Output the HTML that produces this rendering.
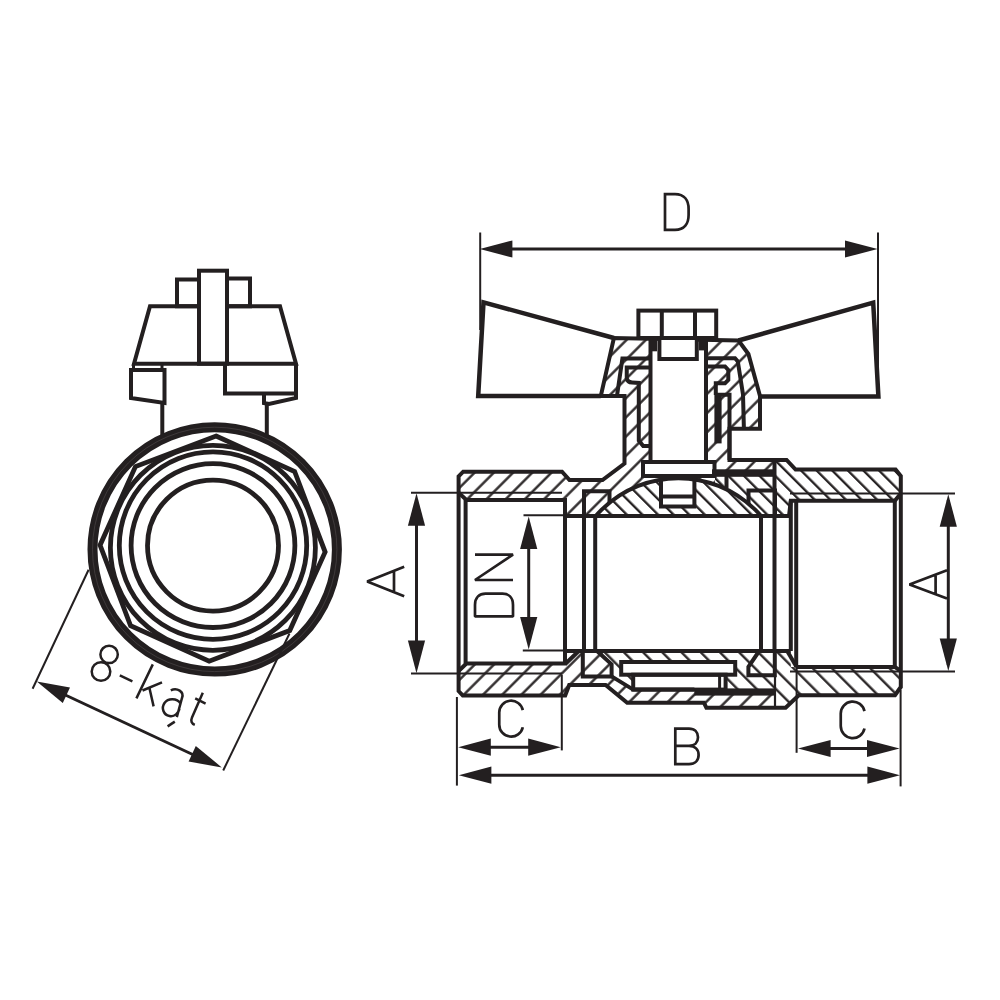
<!DOCTYPE html>
<html><head><meta charset="utf-8"><style>
html,body{margin:0;padding:0;background:#fff;}
svg{display:block;}
</style></head><body>
<svg width="1000" height="1000" viewBox="0 0 1000 1000" stroke="#231f20" stroke-linecap="butt" stroke-linejoin="miter">
<defs>
<pattern id="hA" patternUnits="userSpaceOnUse" width="13.58" height="13.58" patternTransform="rotate(45)">
<line x1="4.4" y1="-2" x2="4.4" y2="16" stroke="#231f20" stroke-width="2.3"/>
</pattern>
<pattern id="hC" patternUnits="userSpaceOnUse" width="11.03" height="11.03" patternTransform="rotate(-45)">
<line x1="2.1" y1="-2" x2="2.1" y2="14" stroke="#231f20" stroke-width="2.3"/>
</pattern>
<pattern id="hB" patternUnits="userSpaceOnUse" width="13.58" height="13.58" patternTransform="rotate(-45)">
<line x1="7.1" y1="-2" x2="7.1" y2="16" stroke="#231f20" stroke-width="2.3"/>
</pattern>
</defs>
<rect x="0" y="0" width="1000" height="1000" fill="#fff" stroke="none"/>
<g fill="none">
<circle cx="214.7" cy="549.4" r="122.2" stroke-width="10"/>
<circle cx="214.7" cy="549.4" r="122.2" stroke="#4a4546" stroke-width="0.7"/>
<polygon points="216.04,436.05 294.61,471.45 325.15,552.04 289.75,630.61 209.16,661.15 130.59,625.75 100.05,545.16 135.45,466.59" fill="none" stroke-width="4.8"/>
<circle cx="212.9" cy="547.8" r="102.5" stroke-width="4.8"/>
<circle cx="213" cy="545.6" r="93.7" stroke-width="4.8"/>
<circle cx="213" cy="545.6" r="81.9" stroke-width="4.8"/>
<circle cx="213" cy="545.6" r="65.5" stroke-width="4.8"/>
<rect x="199" y="270.7" width="28.00" height="93.00" fill="none" stroke-width="4"/>
<polyline points="199.00,306.20 177.00,306.20 177.00,279.50 199.00,279.50" fill="none" stroke-width="4"/>
<polyline points="227.00,306.20 250.00,306.20 250.00,278.50 227.00,278.50" fill="none" stroke-width="4"/>
<polyline points="199.00,306.20 150.00,306.20 134.00,363.70 296.00,363.70 280.00,306.20 227.00,306.20" fill="none" stroke-width="4"/>
<polygon points="131.00,370.00 164.50,370.00 164.50,403.00 131.00,398.00 131.00,370.00" fill="none" stroke-width="4"/>
<line x1="133.5" y1="363.7" x2="133.5" y2="370" stroke-width="3"/>
<line x1="162" y1="363.7" x2="162" y2="370" stroke-width="3"/>
<polyline points="225.00,363.70 225.00,393.50 296.00,393.50" fill="none" stroke-width="4"/>
<polyline points="296.00,363.70 296.00,398.00 269.00,404.00 264.00,403.00 264.00,393.50" fill="none" stroke-width="4"/>
<line x1="162.3" y1="402" x2="162.3" y2="437" stroke-width="4"/>
<line x1="266.8" y1="402" x2="266.8" y2="437" stroke-width="4"/>
</g>
<line x1="88.6" y1="569.8" x2="32.6" y2="688.8" stroke-width="2"/>
<line x1="289.5" y1="633.5" x2="223.2" y2="770.5" stroke-width="2"/>
<line x1="60" y1="692.5" x2="198" y2="757" stroke-width="3"/>
<polygon points="36.80,681.60 70.00,687.47 62.79,703.08" fill="#231f20" stroke="none"/>
<polygon points="221.80,767.40 188.60,761.53 195.81,745.92" fill="#231f20" stroke="none"/>
<polygon points="458.60,476.40 463.20,471.70 562.00,471.70 569.50,480.00 602.50,480.00 624.50,463.50 624.50,396.00 600.80,396.00 613.90,338.00 738.50,340.50 748.40,354.00 760.00,396.00 760.00,428.80 729.50,428.80 729.50,460.00 786.60,460.00 795.60,469.60 895.60,469.60 900.80,476.00 900.80,687.00 895.00,695.20 798.80,695.20 785.60,707.80 706.40,707.80 704.00,702.80 627.20,702.80 605.60,685.00 569.20,685.00 565.20,695.50 462.80,695.50 458.60,691.00" fill="#fff" stroke="none"/>
<polygon points="458.60,476.40 463.20,471.70 562.00,471.70 569.50,480.00 602.50,480.00 624.50,463.50 624.50,396.00 600.80,396.00 613.90,338.00 738.50,340.50 748.40,354.00 760.00,396.00 760.00,428.80 729.50,428.80 729.50,460.00 786.60,460.00 795.60,469.60 895.60,469.60 900.80,476.00 900.80,687.00 895.00,695.20 798.80,695.20 785.60,707.80 706.40,707.80 704.00,702.80 627.20,702.80 605.60,685.00 569.20,685.00 565.20,695.50 462.80,695.50 458.60,691.00" fill="url(#hA)" stroke="none"/>
<polygon points="715.00,476.00 775.50,476.00 775.50,460.00 786.60,460.00 795.60,469.60 895.60,469.60 900.80,476.00 900.80,516.00 715.00,516.00" fill="#fff" stroke="none"/>
<polygon points="715.00,476.00 775.50,476.00 775.50,460.00 786.60,460.00 795.60,469.60 895.60,469.60 900.80,476.00 900.80,516.00 715.00,516.00" fill="url(#hC)" stroke="none"/>
<polygon points="602.00,651.00 900.80,651.00 900.80,687.00 895.00,695.20 796.60,695.20 786.40,708.80 775.00,708.80 775.00,692.00 694.40,689.60 633.20,689.60 611.60,676.40 611.60,664.40" fill="#fff" stroke="none"/>
<polygon points="602.00,651.00 900.80,651.00 900.80,687.00 895.00,695.20 796.60,695.20 786.40,708.80 775.00,708.80 775.00,692.00 694.40,689.60 633.20,689.60 611.60,676.40 611.60,664.40" fill="url(#hB)" stroke="none"/>
<clipPath id="ballTop"><rect x="560" y="470" width="240" height="46"/></clipPath>
<clipPath id="ballBot"><rect x="560" y="651" width="240" height="40"/></clipPath>
<circle cx="678.4" cy="587.4" r="109.2" fill="#fff" stroke="none" clip-path="url(#ballTop)"/>
<circle cx="678.4" cy="587.4" r="109.2" fill="url(#hC)" stroke="none" clip-path="url(#ballTop)"/>
<polygon points="458.60,492.60 466.40,500.00 565.00,500.00 565.00,663.50 466.40,663.50 458.60,671.00" fill="#fff" stroke="none"/>
<rect x="565" y="516" width="225.80" height="135.00" fill="#fff" stroke="none"/>
<polygon points="790.80,500.80 894.80,500.80 900.80,493.60 900.80,671.00 894.80,666.90 790.80,666.90" fill="#fff" stroke="none"/>
<rect x="650.5" y="338" width="55.50" height="124.00" fill="#fff" stroke="none"/>
<rect x="643" y="462" width="71.50" height="14.00" fill="#fff" stroke="none"/>
<rect x="661" y="476" width="33.40" height="30.50" fill="#fff" stroke="none"/>
<rect x="621.2" y="662" width="114.00" height="12.70" fill="#fff" stroke="none"/>
<rect x="633.2" y="674.7" width="92.40" height="14.90" fill="#fff" stroke="none"/>
<g fill="none">
<polygon points="458.60,476.40 463.20,471.70 562.00,471.70 569.50,480.00 602.50,480.00 624.50,463.50 624.50,396.00 600.80,396.00 613.90,338.00 738.50,340.50 748.40,354.00 760.00,396.00 760.00,428.80 729.50,428.80 729.50,460.00 786.60,460.00 795.60,469.60 895.60,469.60 900.80,476.00 900.80,687.00 895.00,695.20 798.80,695.20 785.60,707.80 706.40,707.80 704.00,702.80 627.20,702.80 605.60,685.00 569.20,685.00 565.20,695.50 462.80,695.50 458.60,691.00" fill="none" stroke-width="4"/>
<polyline points="458.60,492.60 466.40,500.00 565.00,500.00 565.00,651.00" fill="none" stroke-width="4"/>
<polyline points="458.60,671.00 466.40,663.50 565.00,663.50 565.00,651.00" fill="none" stroke-width="4"/>
<line x1="465.6" y1="500" x2="465.6" y2="663.5" stroke-width="4"/>
<line x1="565.5" y1="663.7" x2="579" y2="650.8" stroke-width="4"/>
<line x1="411" y1="492.8" x2="562" y2="492.8" stroke-width="2"/>
<line x1="411" y1="673.5" x2="562" y2="673.5" stroke-width="2"/>
<line x1="565" y1="516" x2="790.8" y2="516" stroke-width="4"/>
<line x1="565" y1="651" x2="790.8" y2="651" stroke-width="4"/>
<polyline points="584.00,516.00 584.00,491.20 609.50,491.20 609.50,503.00" fill="none" stroke-width="4"/>
<line x1="584" y1="516" x2="584" y2="651" stroke-width="4"/>
<line x1="595.2" y1="516" x2="595.2" y2="651" stroke-width="4"/>
<polyline points="582.80,651.00 582.80,676.40 611.60,676.40 611.60,664.40 597.00,651.00" fill="none" stroke-width="4"/>
<polyline points="611.60,676.40 633.20,689.60 694.40,689.60" fill="none" stroke-width="4"/>
<polyline points="748.50,504.00 748.50,490.50 775.00,490.50 775.00,516.00" fill="none" stroke-width="4"/>
<line x1="761" y1="516" x2="761" y2="651" stroke-width="4"/>
<line x1="774.5" y1="460" x2="774.5" y2="651" stroke-width="4"/>
<polyline points="759.20,651.00 748.40,666.80 748.40,675.20 774.80,675.20 774.80,651.00" fill="none" stroke-width="4"/>
<line x1="787.2" y1="651" x2="796.6" y2="666.9" stroke-width="4"/>
<line x1="775" y1="675" x2="775" y2="708.8" stroke-width="2.2"/>
<polyline points="789.00,516.00 790.80,500.80 894.80,500.80 900.80,493.60" fill="none" stroke-width="4"/>
<polyline points="796.20,666.90 894.80,666.90 900.80,671.00" fill="none" stroke-width="4"/>
<line x1="790.8" y1="500.8" x2="790.8" y2="651" stroke-width="4"/>
<line x1="796.2" y1="500.8" x2="796.2" y2="666.9" stroke-width="4"/>
<line x1="894.8" y1="500.8" x2="894.8" y2="666.9" stroke-width="4"/>
<line x1="790" y1="493.6" x2="955" y2="493.6" stroke-width="2"/>
<line x1="790" y1="671.5" x2="955" y2="671.5" stroke-width="2"/>
<circle cx="678.4" cy="587.4" r="109.2" stroke-width="4" clip-path="url(#ballTop)"/>
<rect x="661" y="476" width="33.40" height="30.50" fill="none" stroke-width="4"/>
<line x1="661" y1="496.5" x2="694.4" y2="496.5" stroke-width="4"/>
<rect x="643" y="462" width="71.50" height="14.00" fill="none" stroke-width="4"/>
<line x1="650.5" y1="338" x2="650.5" y2="462" stroke-width="4"/>
<line x1="706" y1="338" x2="706" y2="462" stroke-width="4"/>
<rect x="638.4" y="310.6" width="77.80" height="27.40" fill="#fff" stroke-width="4"/>
<line x1="661.8" y1="310.6" x2="661.8" y2="338" stroke-width="4"/>
<line x1="695" y1="310.6" x2="695" y2="338" stroke-width="4"/>
<rect x="659.4" y="338" width="37.40" height="21.00" fill="#fff" stroke-width="4"/>
<rect x="649" y="336" width="8.00" height="15.30" fill="#231f20" stroke="none"/>
<rect x="699" y="336" width="8.00" height="14.40" fill="#231f20" stroke="none"/>
<polyline points="650.50,358.50 622.40,358.50 617.00,395.80" fill="none" stroke-width="4"/>
<path d="M650.4,367.5 H626.75 V378.5 Q627.5,382.3 632,382.6 L638.8,383 V440.5 L643.2,446 H650.4" stroke-width="4"/>
<polyline points="706.00,358.30 735.00,358.30 737.80,361.50 743.00,394.50 743.90,428.80" fill="none" stroke-width="4"/>
<polyline points="706.00,366.40 725.00,366.40 728.30,370.00 728.30,380.00 725.00,383.20 715.80,383.20 715.80,395.00" fill="none" stroke-width="4"/>
<rect x="714.4" y="395" width="7.20" height="48.40" fill="#231f20" stroke="none"/>
<polyline points="715.00,394.80 729.50,394.80 729.50,460.00" fill="none" stroke-width="4"/>
<rect x="712" y="469.3" width="63.50" height="7.50" fill="#231f20" stroke="none"/>
<line x1="726.5" y1="476" x2="726.5" y2="488" stroke-width="4"/>
<rect x="621.2" y="662" width="114.00" height="12.70" fill="none" stroke-width="4"/>
<rect x="633.2" y="674.7" width="92.40" height="14.90" fill="none" stroke-width="4"/>
<line x1="719.6" y1="674.7" x2="719.6" y2="689.6" stroke-width="3"/>
<rect x="694.4" y="688.4" width="80.40" height="7.20" fill="#231f20" stroke="none"/>
<polyline points="600.80,396.00 478.20,396.00 483.50,302.30 613.90,338.00" fill="none" stroke-width="4.5"/>
<polyline points="738.50,340.50 873.20,302.60 878.40,396.50 760.00,396.50" fill="none" stroke-width="4.5"/>
</g>
<line x1="480.2" y1="232.5" x2="480.2" y2="330" stroke-width="2"/>
<line x1="878" y1="232.5" x2="878" y2="372" stroke-width="2"/>
<line x1="490" y1="249" x2="868" y2="249" stroke-width="3"/>
<polygon points="479.80,249.00 512.40,240.40 512.40,257.60" fill="#231f20" stroke="none"/>
<polygon points="877.60,249.00 845.00,257.60 845.00,240.40" fill="#231f20" stroke="none"/>
<line x1="416.5" y1="500" x2="416.5" y2="666" stroke-width="3"/>
<polygon points="416.50,493.20 425.10,525.80 407.90,525.80" fill="#231f20" stroke="none"/>
<polygon points="416.50,673.20 407.90,640.60 425.10,640.60" fill="#231f20" stroke="none"/>
<line x1="948.3" y1="500" x2="948.3" y2="665" stroke-width="3"/>
<polygon points="948.30,494.20 956.90,526.80 939.70,526.80" fill="#231f20" stroke="none"/>
<polygon points="948.30,671.00 939.70,638.40 956.90,638.40" fill="#231f20" stroke="none"/>
<line x1="523.5" y1="515.2" x2="565" y2="515.2" stroke-width="2"/>
<line x1="522.8" y1="650.4" x2="565" y2="650.4" stroke-width="2"/>
<line x1="528.7" y1="530" x2="528.7" y2="640" stroke-width="3"/>
<polygon points="528.70,516.50 537.30,549.10 520.10,549.10" fill="#231f20" stroke="none"/>
<polygon points="528.70,649.50 520.10,616.90 537.30,616.90" fill="#231f20" stroke="none"/>
<line x1="456.9" y1="697" x2="456.9" y2="785.6" stroke-width="2"/>
<line x1="561.8" y1="675" x2="561.8" y2="750.4" stroke-width="2"/>
<line x1="470" y1="747.2" x2="550" y2="747.2" stroke-width="3"/>
<polygon points="458.20,747.20 490.80,738.60 490.80,755.80" fill="#231f20" stroke="none"/>
<polygon points="560.80,747.20 528.20,755.80 528.20,738.60" fill="#231f20" stroke="none"/>
<line x1="470" y1="775.2" x2="890" y2="775.2" stroke-width="3"/>
<polygon points="458.80,775.20 491.40,766.60 491.40,783.80" fill="#231f20" stroke="none"/>
<polygon points="900.00,775.20 867.40,783.80 867.40,766.60" fill="#231f20" stroke="none"/>
<line x1="796.6" y1="666" x2="796.6" y2="752.8" stroke-width="2"/>
<line x1="900.6" y1="690" x2="900.6" y2="786.4" stroke-width="2"/>
<line x1="810" y1="748.5" x2="890" y2="748.5" stroke-width="3"/>
<polygon points="798.00,748.50 830.60,739.90 830.60,757.10" fill="#231f20" stroke="none"/>
<polygon points="899.60,748.50 867.00,757.10 867.00,739.90" fill="#231f20" stroke="none"/>
<g fill="none" stroke-width="2.7" stroke-linejoin="bevel"><path stroke-linejoin="miter" d="M665,194.2 H675 C684.5,194.2 688.6,200.5 688.6,209 V215 C688.6,223.5 684.5,229.8 675,229.8 H665 Z"/><path stroke-linejoin="miter" d="M689,745.9 H675.3 V728.6 H689 C694.6,728.6 698,732.2 698,737.3 C698,742.4 694.6,745.9 689,745.9 C695,745.9 698.6,749.6 698.6,755 C698.6,760.4 695,764.2 689,764.2 H675.3 V745.9"/><path d="M864.49,711.11 A12,12 0 0 0 840.75,713.6 V726.1 A12,12 0 0 0 864.49,728.59"/><path d="M522.79,710.13 A11.9,11.9 0 0 0 499.25,712.6 V724.7 A11.9,11.9 0 0 0 522.79,727.17"/><path d="M404.2,566.8 L367.2,581.6 L404.2,596.3 M394,571 V592.2"/><path d="M947,570.2 L909.5,584.4 L947,598.6 M935.6,574.8 V594"/><path d="M513,580 H475 L513,554.6 H475"/><path d="M475,616.4 H513 V605 C513,597.5 508.5,593.6 502.5,593.6 H485.5 C479.5,593.6 475,597.5 475,605 Z"/></g>
<g fill="none" stroke-width="2.5"><circle cx="109.1" cy="654.4" r="8.7"/><circle cx="101" cy="671.5" r="9.3"/><path d="M119.8,675.4 L132.4,681.4"/><path d="M152.8,664.4 L136.4,698.4 M162,682.4 L142.5,690.5 M149.6,688.8 L153.6,706.4"/><path d="M170.8,690.4 C177,687.5 184.5,691.5 182,698 L176.8,717.2 M180.5,703.5 C177,698 168,698 164.5,703 C161,708 163.5,715 169.5,716 C174.5,717 178.5,713 179.5,709"/><path d="M167.6,726.4 L174.8,721.6"/><path d="M202.8,692.8 L192,717.5 C190.5,721 191.5,723.5 194.8,724.8 M195.2,698.4 L205.6,703.6"/></g>
</svg>
</body></html>
